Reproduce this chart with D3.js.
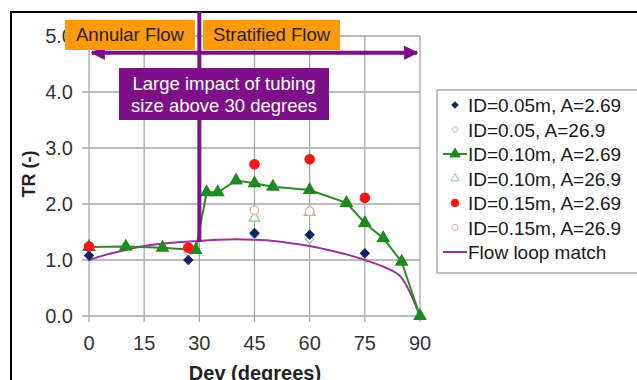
<!DOCTYPE html>
<html>
<head>
<meta charset="utf-8">
<script src="https://cdn.jsdelivr.net/npm/d3@7"></script>
<style>
  body { margin: 0; background: #fff; }
  text { font-family: "Liberation Sans", Arial, sans-serif; }
</style>
</head>
<body>
<script>
var width = 637, height = 380;

// data
var xTicks = [0, 15, 30, 45, 60, 75, 90];
var yTicks = [0, 1, 2, 3, 4, 5];

var id05A269 = [[0, 1.08], [27, 1.0], [45, 1.48], [60, 1.45], [75, 1.12]];
var id05A269b = [[45, 1.45], [60, 1.37]];
var id10A269 = [[0, 1.23], [10, 1.24], [20, 1.22], [29, 1.18], [32, 2.21], [35, 2.21],
                [40, 2.42], [45, 2.37], [50, 2.31], [60, 2.25], [70, 2.02], [75, 1.66],
                [80, 1.39], [85, 0.97], [90, 0]];
var id10A269b = [[45, 1.75], [60, 1.85], [75, 1.65]];
var id15A269 = [[0, 1.24], [27, 1.22], [45, 2.71], [60, 2.8], [75, 2.11]];
var id15A269b = [[27, 1.16], [45, 1.89], [60, 1.87]];
var flowLoop = [[0, 1.0], [5, 1.1], [10, 1.18], [15, 1.25], [20, 1.29], [25, 1.32],
                [30, 1.34], [35, 1.36], [40, 1.37], [45, 1.36], [50, 1.34], [55, 1.3],
                [60, 1.25], [65, 1.18], [70, 1.1], [75, 1.0], [80, 0.88], [85, 0.68], [90, 0]];

var legendLabels = ["ID=0.05m, A=2.69", "ID=0.05, A=26.9", "ID=0.10m, A=2.69",
                    "ID=0.10m, A=26.9", "ID=0.15m, A=2.69", "ID=0.15m, A=26.9",
                    "Flow loop match"];

var purple = "#7d1088", orange = "#ff9a0a";

var x = d3.scaleLinear().domain([0, 90]).range([89, 420]);
var y = d3.scaleLinear().domain([0, 5]).range([316, 36]);

var svg = d3.select("body").append("svg")
    .attr("width", width)
    .attr("height", height);

// outer frame
svg.append("path")
    .attr("d", "M11,380V12H637")
    .attr("fill", "none")
    .attr("stroke", "#000")
    .attr("stroke-width", 2);

// grid
svg.append("g").selectAll("line")
    .data(yTicks).enter().append("line")
    .attr("x1", 82).attr("x2", x(90))
    .attr("y1", function(d) { return y(d); })
    .attr("y2", function(d) { return y(d); })
    .attr("stroke", "#a6a6a6").attr("stroke-width", 1.3);

svg.append("g").selectAll("line")
    .data(xTicks).enter().append("line")
    .attr("y1", y(5)).attr("y2", 322)
    .attr("x1", function(d) { return x(d); })
    .attr("x2", function(d) { return x(d); })
    .attr("stroke", "#a6a6a6").attr("stroke-width", 1.3);

// tick labels
svg.append("g").selectAll("text")
    .data(yTicks).enter().append("text")
    .attr("x", 73)
    .attr("y", function(d) { return y(d) + 7; })
    .attr("text-anchor", "end")
    .attr("font-size", 20)
    .attr("fill", "#333")
    .text(function(d) { return d3.format(".1f")(d); });

svg.append("g").selectAll("text")
    .data(xTicks).enter().append("text")
    .attr("x", function(d) { return x(d); })
    .attr("y", 350)
    .attr("text-anchor", "middle")
    .attr("font-size", 20)
    .attr("fill", "#333")
    .text(function(d) { return d; });

// axis titles
svg.append("text")
    .attr("transform", "translate(35," + 174 + ") rotate(-90)")
    .attr("text-anchor", "middle")
    .attr("font-size", 18)
    .attr("font-weight", "bold")
    .attr("fill", "#222")
    .text("TR (-)");

svg.append("text")
    .attr("x", 255).attr("y", 380)
    .attr("text-anchor", "middle")
    .attr("font-size", 20)
    .attr("font-weight", "bold")
    .attr("fill", "#222")
    .text("Dev (degrees)");

// series
var line = d3.line()
    .x(function(d) { return x(d[0]); })
    .y(function(d) { return y(d[1]); });

svg.append("path")
    .datum(flowLoop)
    .attr("d", line.curve(d3.curveMonotoneX))
    .attr("fill", "none")
    .attr("stroke", "#993399")
    .attr("stroke-width", 2);

line.curve(d3.curveLinear);

svg.append("path")
    .datum(id10A269)
    .attr("d", line)
    .attr("fill", "none")
    .attr("stroke", "#2a8a2a")
    .attr("stroke-width", 2);

var diamond = d3.symbol().type(d3.symbolDiamond2),
    triangle = d3.symbol().type(d3.symbolTriangle),
    circle = d3.symbol().type(d3.symbolCircle);

function marks(data, sym, size, fill, stroke) {
    svg.append("g").selectAll("path")
        .data(data).enter().append("path")
        .attr("transform", function(d) { return "translate(" + [x(d[0]), y(d[1])] + ")"; })
        .attr("d", sym.size(size)())
        .attr("fill", fill)
        .attr("stroke", stroke)
        .attr("stroke-width", 1.2);
}

marks(id10A269b, triangle, 50, "#fff", "#8fc88f");
marks(id05A269b, diamond, 45, "#fff", "#9fb3dc");
marks(id15A269b, circle, 60, "#fff", "#e8aaa2");
marks(id05A269, diamond, 50, "#0d2466", "#0d2466");
marks(id10A269, triangle, 60, "#1f8a1f", "#1f8a1f");
marks(id15A269, circle, 70, "#ff1414", "#ff1414");

// annotations
svg.append("line")
    .attr("x1", x(30)).attr("x2", x(30))
    .attr("y1", 12).attr("y2", y(1.32))
    .attr("stroke", purple).attr("stroke-width", 4);

var defs = svg.append("defs");
defs.append("marker")
    .attr("id", "head")
    .attr("viewBox", "0 0 10 10")
    .attr("refX", 9).attr("refY", 5)
    .attr("markerWidth", 3.6).attr("markerHeight", 3.6)
    .attr("orient", "auto-start-reverse")
    .append("path")
    .attr("d", "M0,0L10,5L0,10Z")
    .attr("fill", purple);

svg.append("line")
    .attr("x1", x(0) + 3).attr("x2", x(90) - 3)
    .attr("y1", y(4.7)).attr("y2", y(4.7))
    .attr("stroke", purple).attr("stroke-width", 4)
    .attr("marker-start", "url(#head)")
    .attr("marker-end", "url(#head)");

var boxes = [
    {x: 65, y: 20, w: 130, h: 30, t: "Annular Flow"},
    {x: 203, y: 20, w: 137, h: 30, t: "Stratified Flow"}
];
boxes.forEach(function(b) {
    svg.append("rect")
        .attr("x", b.x).attr("y", b.y).attr("width", b.w).attr("height", b.h)
        .attr("fill", orange);
    svg.append("text")
        .attr("x", b.x + b.w / 2).attr("y", b.y + 21)
        .attr("text-anchor", "middle")
        .attr("font-size", 18.5)
        .attr("fill", "#222")
        .text(b.t);
});

svg.append("rect")
    .attr("x", 119).attr("y", 68).attr("width", 210).attr("height", 52)
    .attr("fill", purple);
svg.append("text")
    .attr("x", 224).attr("y", 90)
    .attr("text-anchor", "middle")
    .attr("font-size", 18.5)
    .attr("fill", "#fff")
    .text("Large impact of tubing");
svg.append("text")
    .attr("x", 224).attr("y", 112)
    .attr("text-anchor", "middle")
    .attr("font-size", 18.5)
    .attr("fill", "#fff")
    .text("size above 30 degrees");

// legend
var lg = svg.append("g");
lg.append("rect")
    .attr("x", 437).attr("y", 90).attr("width", 220).attr("height", 183)
    .attr("fill", "#fff")
    .attr("stroke", "#9a9a9a").attr("stroke-width", 1.2);

var legendStyles = [
    {sym: diamond, size: 28, fill: "#0d2466", stroke: "#0d2466"},
    {sym: diamond, size: 26, fill: "#fff", stroke: "#9fb3dc"},
    {sym: triangle, size: 45, fill: "#1f8a1f", stroke: "#1f8a1f", line: "#2a8a2a"},
    {sym: triangle, size: 30, fill: "#fff", stroke: "#8fc88f"},
    {sym: circle, size: 45, fill: "#ff1414", stroke: "#ff1414"},
    {sym: circle, size: 30, fill: "#fff", stroke: "#e8aaa2"},
    {sym: null, line: "#993399"}
];

var item = lg.selectAll("g.item")
    .data(legendLabels).enter().append("g")
    .attr("class", "item")
    .attr("transform", function(d, i) { return "translate(0," + (105 + i * 24.5) + ")"; });

item.each(function(d, i) {
    var g = d3.select(this), s = legendStyles[i];
    if (s.line) {
        g.append("line").attr("x1", 443).attr("x2", 467)
            .attr("y1", 0).attr("y2", 0)
            .attr("stroke", s.line).attr("stroke-width", 2);
    }
    if (s.sym) {
        g.append("path")
            .attr("transform", "translate(455,0)")
            .attr("d", s.sym.size(s.size)())
            .attr("fill", s.fill).attr("stroke", s.stroke).attr("stroke-width", 1);
    }
    g.append("text")
        .attr("x", 468).attr("y", 7)
        .attr("font-size", 19)
        .attr("fill", "#1a1a1a")
        .text(d);
});
</script>
</body>
</html>
